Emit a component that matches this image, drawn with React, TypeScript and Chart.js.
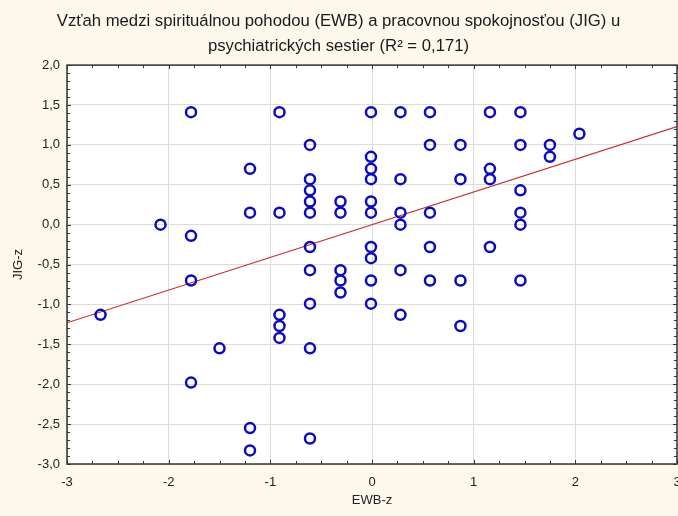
import React, { useEffect, useRef } from "react";
import { Chart, registerables } from "chart.js";

Chart.register(...registerables);

const titleLines = [
  "Vzťah medzi spirituálnou pohodou (EWB) a pracovnou spokojnosťou (JIG) u",
  "psychiatrických sestier (R² = 0,171)",
];
const xTitle = "EWB-z";
const yTitle = "JIG-z";

// EWB-z (x) and JIG-z (y) of each nurse
const ewbZ = [
  -2.67,
  -2.08,
  -1.78, -1.78, -1.78, -1.78,
  -1.5,
  -1.2, -1.2, -1.2, -1.2,
  -0.91, -0.91, -0.91, -0.91, -0.91,
  -0.61, -0.61, -0.61, -0.61, -0.61, -0.61, -0.61, -0.61, -0.61, -0.61,
  -0.31, -0.31, -0.31, -0.31, -0.31,
  -0.01, -0.01, -0.01, -0.01, -0.01, -0.01, -0.01, -0.01, -0.01, -0.01,
  0.28, 0.28, 0.28, 0.28, 0.28, 0.28,
  0.57, 0.57, 0.57, 0.57, 0.57,
  0.87, 0.87, 0.87, 0.87,
  1.16, 1.16, 1.16, 1.16,
  1.46, 1.46, 1.46, 1.46, 1.46, 1.46,
  1.75, 1.75,
  2.04,
];
const jigZ = [
  -1.13,
  0.0,
  1.41, -0.14, -0.7, -1.98,
  -1.55,
  0.7, 0.15, -2.55, -2.83,
  1.41, 0.15, -1.13, -1.27, -1.42,
  1.0, 0.57, 0.43, 0.29, 0.15, -0.28, -0.57, -0.99, -1.55, -2.68,
  0.29, 0.15, -0.57, -0.7, -0.85,
  1.41, 0.85, 0.7, 0.57, 0.29, 0.15, -0.28, -0.42, -0.7, -0.99,
  1.41, 0.57, 0.15, 0.0, -0.57, -1.13,
  1.41, 1.0, 0.15, -0.28, -0.7,
  1.0, 0.57, -0.7, -1.27,
  1.41, 0.7, 0.57, -0.28,
  1.41, 1.0, 0.43, 0.15, 0.0, -0.7,
  1.0, 0.85,
  1.14,
];

// regression line end points
const fitX = [-3, 3];
const fitY = [-1.23, 1.23];

const xMin = -3, xMax = 3, xStep = 1, xMinor = 0.25;
const yMin = -3, yMax = 2, yStep = 0.5, yMinor = 0.1;

const FONT = "'Liberation Sans', Arial, sans-serif";

const framePlugin = {
  id: "frame",
  beforeDraw(chart: any) {
    const { ctx, chartArea: a } = chart;
    ctx.save();
    ctx.fillStyle = "#ffffff";
    ctx.fillRect(a.left, a.top, a.right - a.left, a.bottom - a.top);
    ctx.restore();
  },
  afterDatasetsDraw(chart: any) {
    const { ctx, chartArea: a, scales } = chart;
    const xs = scales.x, ys = scales.y;
    ctx.save();
    ctx.strokeStyle = "#333333";
    ctx.lineWidth = 1.5;
    ctx.strokeRect(a.left, a.top, a.right - a.left, a.bottom - a.top);
    ctx.lineWidth = 1;
    ctx.beginPath();
    for (let v = xMin; v <= xMax + 1e-9; v += xMinor) {
      const px = Math.round(xs.getPixelForValue(v)) + 0.5;
      const major = Math.abs(v - Math.round(v)) < 1e-6;
      const len = major ? 4 : 3;
      ctx.moveTo(px, a.bottom);
      ctx.lineTo(px, a.bottom - len);
      ctx.moveTo(px, a.top);
      ctx.lineTo(px, a.top + len);
    }
    for (let v = yMin; v <= yMax + 1e-9; v += yMinor) {
      const py = Math.round(ys.getPixelForValue(v)) + 0.5;
      const r = v * 2;
      const major = Math.abs(r - Math.round(r)) < 1e-6;
      const len = major ? 4 : 3;
      ctx.moveTo(a.left, py);
      ctx.lineTo(a.left + len, py);
      ctx.moveTo(a.right, py);
      ctx.lineTo(a.right - len, py);
    }
    ctx.stroke();
    ctx.restore();
  },
};

export default function App() {
  const ref = useRef<HTMLCanvasElement | null>(null);

  useEffect(() => {
    if (!ref.current) return;
    const points = ewbZ.map((x, i) => ({ x, y: jigZ[i] }));
    const fit = fitX.map((x, i) => ({ x, y: fitY[i] }));
    const chart = new Chart(ref.current, {
      type: "scatter",
      data: {
        datasets: [
          {
            type: "line",
            data: fit,
            borderColor: "#c83030",
            borderWidth: 1.2,
            pointRadius: 0,
            fill: false,
            order: 2,
          } as any,
          {
            data: points,
            pointStyle: "circle",
            pointRadius: 5,
            pointHoverRadius: 5,
            pointBorderWidth: 2.5,
            borderColor: "#0c0cbc",
            backgroundColor: "rgba(0,0,0,0)",
            order: 1,
          } as any,
        ],
      },
      plugins: [framePlugin],
      options: {
        animation: false,
        responsive: false,
        maintainAspectRatio: false,
        layout: { autoPadding: false, padding: { left: 0, right: 1, top: 0, bottom: 0 } },
        plugins: {
          legend: { display: false },
          tooltip: { enabled: false },
          title: {
            display: true,
            text: titleLines,
            color: "#1a1a1a",
            font: { family: FONT, size: 16.7, weight: "normal", lineHeight: 1.5 },
            padding: { top: 9, bottom: 6 },
          },
        },
        scales: {
          x: {
            type: "linear",
            min: xMin,
            max: xMax,
            ticks: {
              stepSize: xStep,
              color: "#222222",
              font: { family: FONT, size: 13 },
              padding: 11,
            },
            grid: { color: "#dcdcdc", drawTicks: false, lineWidth: 1 },
            border: { display: false },
            title: {
              display: true,
              text: xTitle,
              color: "#222222",
              font: { family: FONT, size: 13 },
              padding: { top: 0, bottom: 8 },
            },
            afterFit: (s: any) => {
              s.height = 52;
              s.paddingLeft = 0;
              s.paddingRight = 0;
            },
          },
          y: {
            type: "linear",
            min: yMin,
            max: yMax,
            ticks: {
              stepSize: yStep,
              color: "#222222",
              font: { family: FONT, size: 13 },
              padding: 7,
              callback: (v: any) => Number(v).toFixed(1).replace(".", ","),
            },
            grid: { color: "#dcdcdc", drawTicks: false, lineWidth: 1 },
            border: { display: false },
            title: {
              display: true,
              text: yTitle,
              color: "#222222",
              font: { family: FONT, size: 13 },
              padding: { top: 11, bottom: 0 },
            },
            afterFit: (s: any) => {
              s.width = 67;
              s.paddingTop = 0;
              s.paddingBottom = 0;
            },
          },
        },
      },
    });
    return () => chart.destroy();
  }, []);

  return (
    <div
      style={{
        position: "absolute",
        left: 0,
        top: 0,
        width: 678,
        height: 516,
        background: "#fcf8ec",
      }}
    >
      <canvas ref={ref} width={678} height={516} style={{ display: "block" }} />
    </div>
  );
}
